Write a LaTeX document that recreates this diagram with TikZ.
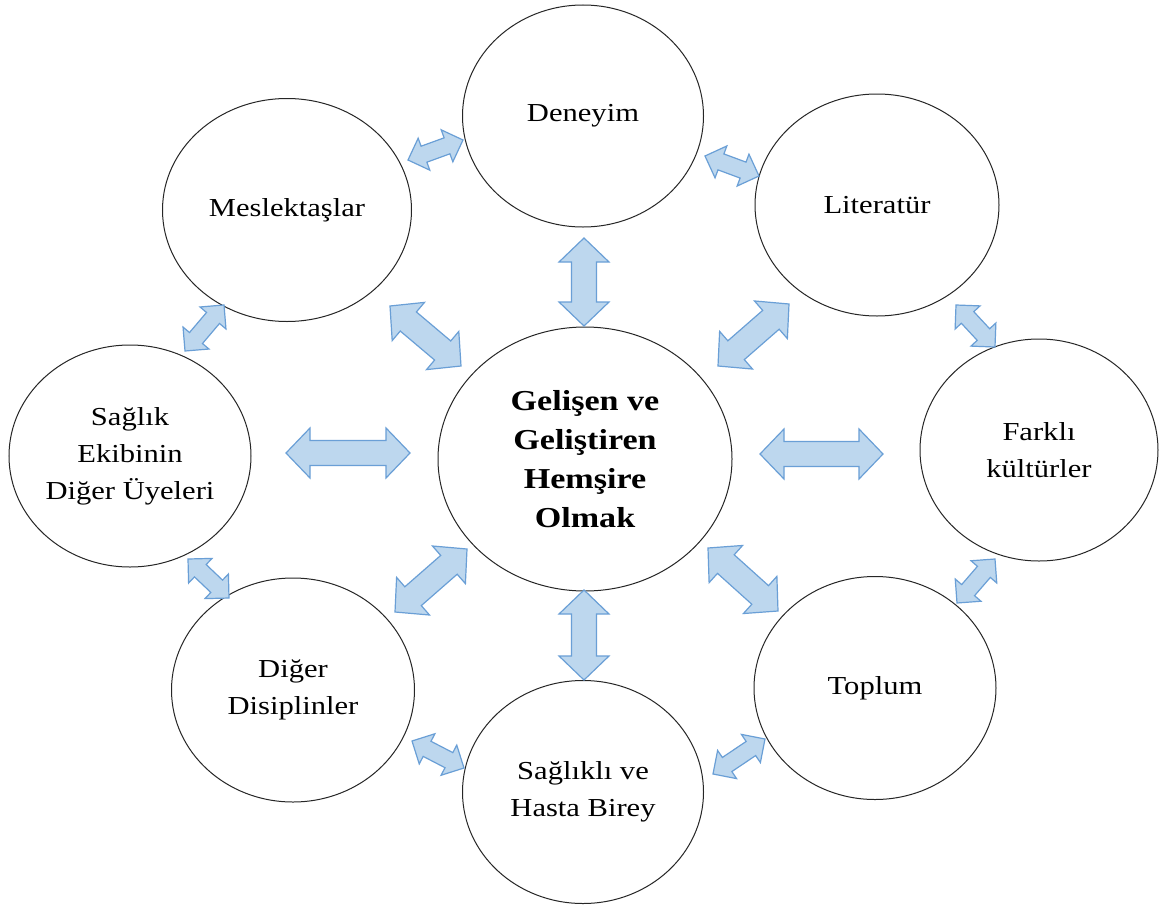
\documentclass[tikz,border=0pt]{standalone}
\usepackage{fontspec}
\setmainfont{Liberation Serif}[FakeStretch=1.18]
\usetikzlibrary{shapes.geometric,calc}
\definecolor{arrowfill}{HTML}{BDD7EE}
\definecolor{arrowline}{HTML}{6A9FD6}
\newcommand{\blockarrow}[5]{%
\draw[blockstyle] (#1)
 -- ($(#1)!#5!(#2)!#3!90:(#2)$)
 -- ($(#1)!#5!(#2)!#4!90:(#2)$)
 -- ($(#2)!#5!(#1)!#4!-90:(#1)$)
 -- ($(#2)!#5!(#1)!#3!-90:(#1)$)
 -- (#2)
 -- ($(#2)!#5!(#1)!#3!90:(#1)$)
 -- ($(#2)!#5!(#1)!#4!90:(#1)$)
 -- ($(#1)!#5!(#2)!#4!-90:(#2)$)
 -- ($(#1)!#5!(#2)!#3!-90:(#2)$)
 -- cycle;}
\newcommand{\bigarrow}[2]{\blockarrow{#1}{#2}{25bp}{12.5bp}{24bp}}
\newcommand{\smallarrow}[2]{\blockarrow{#1}{#2}{17bp}{8.5bp}{17bp}}
\begin{document}
\begin{tikzpicture}[x=1bp,y=-1bp,
  bubble/.style={ellipse,draw=black!85,line width=1bp,inner sep=0pt,align=center,
    font=\fontsize{26}{37}\selectfont},
  blockstyle/.style={fill=arrowfill,draw=arrowline,line width=1.2bp}]
\useasboundingbox (0,0) rectangle (1159,909);
\fill[white] (0,0) rectangle (1159,909);
% ellipses
\node[bubble,minimum width=241bp,minimum height=222bp] (den) at (583,116) {Deneyim};
\node[bubble,minimum width=249bp,minimum height=223bp] (mes) at (287,210) {Meslektaşlar};
\node[bubble,minimum width=244bp,minimum height=222bp] (lit) at (877,205) {Literatür};
\node[bubble,minimum width=242bp,minimum height=222bp] (sag) at (130,456) {Sağlık\\Ekibinin\\Diğer Üyeleri};
\node[bubble,minimum width=238bp,minimum height=222bp] (far) at (1039,450) {Farklı\\kültürler};
\node[bubble,minimum width=243bp,minimum height=224bp] (dig) at (293,690) {Diğer\\Disiplinler};
\node[bubble,minimum width=242bp,minimum height=223bp] (top) at (875,688) {Toplum};
\node[bubble,minimum width=241bp,minimum height=223bp] (hst) at (583,792) {Sağlıklı ve\\Hasta Birey};
\node[bubble,minimum width=294bp,minimum height=264bp,
  font=\fontsize{29}{39}\selectfont\bfseries] (cen) at (585,459) {Gelişen ve\\Geliştiren\\Hemşire\\Olmak};
% arrow end points
\coordinate (v1a) at (584,238); \coordinate (v1b) at (584,326);
\coordinate (v2a) at (584,590); \coordinate (v2b) at (584,680);
\coordinate (h1a) at (286,453); \coordinate (h1b) at (410,453);
\coordinate (h2a) at (760,454); \coordinate (h2b) at (883,454);
\coordinate (d1a) at (390,306); \coordinate (d1b) at (461,366);
\coordinate (d2a) at (789,304); \coordinate (d2b) at (718,366);
\coordinate (d3a) at (467,549); \coordinate (d3b) at (395,612);
\coordinate (d4a) at (708,548); \coordinate (d4b) at (778,611);
\coordinate (s1a) at (408,160); \coordinate (s1b) at (463,140);
\coordinate (s2a) at (705,156); \coordinate (s2b) at (759,176);
\coordinate (s3a) at (956,305); \coordinate (s3b) at (995,347);
\coordinate (s4a) at (995,559); \coordinate (s4b) at (957,603);
\coordinate (s5a) at (765,739); \coordinate (s5b) at (713,774);
\coordinate (s6a) at (464,768); \coordinate (s6b) at (412,741);
\coordinate (s7a) at (229,598); \coordinate (s7b) at (188,559);
\coordinate (s8a) at (185,351); \coordinate (s8b) at (224,305);
% big arrows
\bigarrow{v1a}{v1b}
\bigarrow{v2a}{v2b}
\bigarrow{h1a}{h1b}
\bigarrow{h2a}{h2b}
\bigarrow{d1a}{d1b}
\bigarrow{d2a}{d2b}
\bigarrow{d3a}{d3b}
\bigarrow{d4a}{d4b}
% small arrows
\smallarrow{s1a}{s1b}
\smallarrow{s2a}{s2b}
\smallarrow{s3a}{s3b}
\smallarrow{s4a}{s4b}
\smallarrow{s5a}{s5b}
\smallarrow{s6a}{s6b}
\smallarrow{s7a}{s7b}
\smallarrow{s8a}{s8b}
\end{tikzpicture}
\end{document}
